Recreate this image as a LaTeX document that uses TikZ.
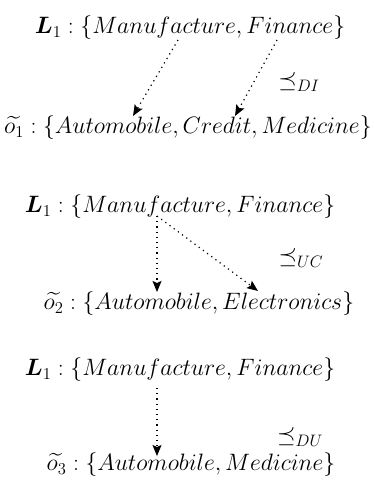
\RequirePackage{fix-cm}
\documentclass[tikz,border=0pt]{standalone}
\usepackage{amsmath,amssymb}
\usetikzlibrary{arrows.meta}
\begin{document}
\begin{tikzpicture}[x=1pt,y=-1pt,
  lbl/.style={inner sep=0pt,font=\fontsize{23.7}{28}\selectfont},
  rel/.style={inner sep=0pt,font=\fontsize{23.7}{28}\selectfont},
  dotarrow/.style={line width=1.2pt,dash pattern=on 1.2pt off 4pt,
    -{Stealth[length=11pt,width=9pt,inset=2pt]}}]
\useasboundingbox (0,0) rectangle (374,493);
% block 1
\node[lbl] (a1) at (190,28) {$\boldsymbol{L}_1:\{Manufacture,Finance\}$};
\node[lbl] (b1) at (188,128) {$\widetilde{o_1}:\{Automobile,Credit,Medicine\}$};
\node[rel] (r1) at (299,82) {$\preceq_{DI}$};
\coordinate (s1a) at (178,40);
\coordinate (e1a) at (133,116);
\coordinate (s1b) at (277,40);
\coordinate (e1b) at (235,116);
\draw[dotarrow] (s1a) -- (e1a);
\draw[dotarrow] (s1b) -- (e1b);
% block 2
\node[lbl] (a2) at (180,207) {$\boldsymbol{L}_1:\{Manufacture,Finance\}$};
\node[lbl] (b2) at (199,304) {$\widetilde{o_2}:\{Automobile,Electronics\}$};
\node[rel] (r2) at (301,258) {$\preceq_{UC}$};
\coordinate (s2) at (157,216);
\coordinate (e2a) at (157,292);
\coordinate (e2b) at (258,291);
\draw[dotarrow] (s2) -- (e2a);
\draw[dotarrow] (s2) -- (e2b);
% block 3
\node[lbl] (a3) at (180,370) {$\boldsymbol{L}_1:\{Manufacture,Finance\}$};
\node[lbl] (b3) at (191,465) {$\widetilde{o_3}:\{Automobile,Medicine\}$};
\node[rel] (r3) at (300,437) {$\preceq_{DU}$};
\coordinate (s3) at (157,388);
\coordinate (e3) at (157,456);
\draw[dotarrow] (s3) -- (e3);
\end{tikzpicture}
\end{document}
